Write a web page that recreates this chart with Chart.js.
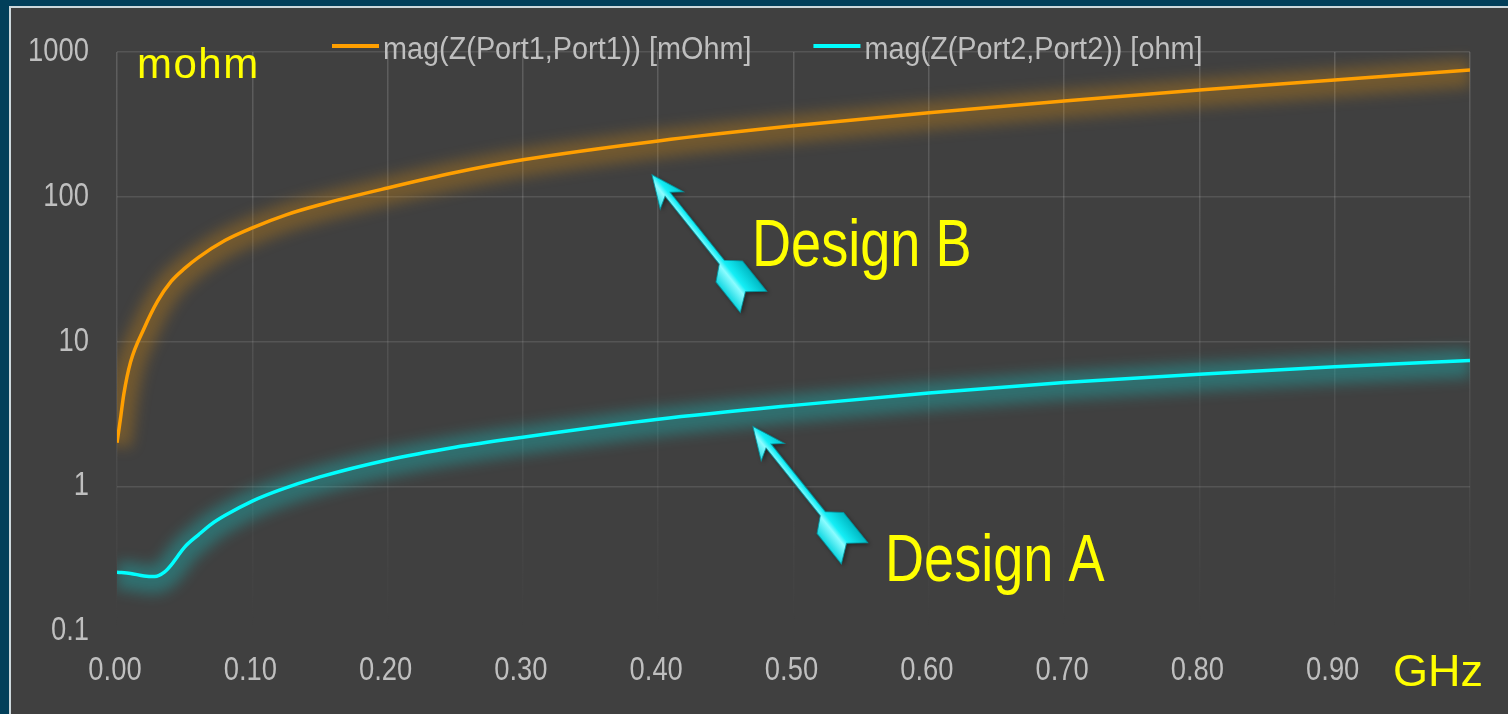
<!DOCTYPE html>
<html>
<head>
<meta charset="utf-8">
<title>Impedance comparison</title>
<script src="https://cdn.jsdelivr.net/npm/chart.js@4.4.1/dist/chart.umd.min.js"></script>
<style>
    html, body { margin: 0; padding: 0; background: #023f5a; overflow: hidden; }
    #panel {
        position: absolute; left: 9px; top: 6px;
        width: 1520px; height: 730px;
        background: #404040; border: 2px solid #cdd8dc;
    }
    #chart { position: absolute; left: 0; top: 0; }
</style>
</head>
<body>
<div id="panel"></div>
<canvas id="chart" width="1508" height="714"></canvas>
<script>
// frequency in GHz
const freqB = [0, 0.0025, 0.005, 0.01, 0.02, 0.03, 0.04, 0.05, 0.06, 0.08, 0.10, 0.125, 0.15,
    0.20, 0.25, 0.30, 0.40, 0.50, 0.60, 0.70, 0.80, 0.90, 1.00];
// mag(Z(Port1,Port1)) in mOhm
const designB = [2.0, 2.9, 4.3, 7.2, 12.3, 19, 26, 32, 38, 50, 61, 75, 88,
    115, 147, 180, 243, 309, 380, 459, 547, 641, 752];

const freqA = [0, 0.01, 0.02, 0.028, 0.035, 0.04, 0.045, 0.05, 0.06, 0.07, 0.08, 0.10, 0.12, 0.15,
    0.20, 0.25, 0.30, 0.40, 0.50, 0.60, 0.70, 0.80, 0.90, 1.00];
// mag(Z(Port2,Port2)) in ohm
const designA = [0.255, 0.25, 0.24, 0.238, 0.255, 0.285, 0.33, 0.38, 0.46, 0.55, 0.63, 0.79, 0.94, 1.16,
    1.52, 1.86, 2.18, 2.90, 3.62, 4.40, 5.20, 5.95, 6.70, 7.40];

const seriesLabels = ["mag(Z(Port1,Port1)) [mOhm]", "mag(Z(Port2,Port2)) [ohm]"];
const seriesColors = ["#ff9f00", "#00ffff"];
const glowColors = ["rgba(255,160,0,0.26)", "rgba(0,255,255,0.25)"];

const xTicks = [0, 0.1, 0.2, 0.3, 0.4, 0.5, 0.6, 0.7, 0.8, 0.9, 1.0];
const xTickLabels = ["0.00", "0.10", "0.20", "0.30", "0.40", "0.50", "0.60", "0.70", "0.80", "0.90", ""];
const yTicks = [0.1, 1, 10, 100, 1000];
const yTickLabels = ["0.1", "1", "10", "100", "1000"];

// callouts: arrow tip + tail end, label anchor (data coords)
const arrows = [
    { tip: [0.3954, 142], tail: [0.470, 19.0] },
    { tip: [0.470, 2.59], tail: [0.5447, 0.348] }
];
const calloutText = ["Design B", "Design A"];
const calloutPos = [[0.4693, 33.4], [0.5676, 0.221]];

// no narrow face installed, so condensed text is squeezed by hand
const SANS = '"Liberation Sans", Arial, sans-serif';

function toPoints(xs, ys) {
    return xs.map((x, i) => ({ x: x, y: ys[i] }));
}

function narrowText(ctx, text, x, y, squeeze, align) {
    ctx.save();
    ctx.translate(x, y);
    ctx.scale(squeeze, 1);
    ctx.textAlign = align || "left";
    ctx.fillText(text, 0, 0);
    ctx.restore();
}

// soft glow: draw the same line element wide + blurred before the real one
const glowPlugin = {
    id: 'glow',
    beforeDatasetDraw(chart, args) {
        const ctx = chart.ctx;
        const area = chart.chartArea;
        const line = args.meta.dataset;
        const o = line.options;
        const bw = o.borderWidth, bc = o.borderColor;

        ctx.save();
        ctx.beginPath();
        ctx.rect(area.left, area.top - 10, area.right - area.left, area.bottom - area.top + 20);
        ctx.clip();
        ctx.filter = "blur(7px)";
        ctx.translate(0, 3);
        o.borderWidth = 28;
        o.borderColor = glowColors[args.index];
        line.draw(ctx, area);
        o.borderWidth = bw;
        o.borderColor = bc;
        ctx.restore();
    }
};

function drawArrow(ctx, tx, ty, ex, ey) {
    const dx = ex - tx, dy = ey - ty;
    const k = Math.hypot(dx, dy) / 162;
    ctx.save();
    ctx.translate(tx, ty);
    ctx.rotate(Math.atan2(dy, dx));
    ctx.scale(k, k);

    const grad = ctx.createLinearGradient(0, -17, 0, 17);
    grad.addColorStop(0, "#00b9c4");
    grad.addColorStop(0.45, "#14eef6");
    grad.addColorStop(0.6, "#8cfcff");
    grad.addColorStop(1, "#10d8e2");
    ctx.fillStyle = grad;
    ctx.shadowColor = "rgba(0,0,0,0.45)";
    ctx.shadowBlur = 4;
    ctx.shadowOffsetX = 2;
    ctx.shadowOffsetY = 2;

    ctx.beginPath();
    // head
    ctx.moveTo(0, 0);
    ctx.lineTo(33, -14);
    ctx.lineTo(25, -3.2);
    // shaft
    ctx.lineTo(112, -3.2);
    // fletching
    ctx.lineTo(124, -17);
    ctx.lineTo(163, -17);
    ctx.lineTo(150, 0);
    ctx.lineTo(163, 17);
    ctx.lineTo(124, 17);
    ctx.lineTo(112, 3.2);
    ctx.lineTo(25, 3.2);
    ctx.lineTo(32, 15);
    ctx.closePath();
    ctx.fill();

    ctx.shadowColor = "transparent";
    ctx.strokeStyle = "rgba(0,150,160,0.8)";
    ctx.lineWidth = 1;
    ctx.stroke();
    ctx.restore();
}

const calloutPlugin = {
    id: 'callouts',
    afterDatasetsDraw(chart) {
        const ctx = chart.ctx;
        const xs = chart.scales.x, ys = chart.scales.y;
        const area = chart.chartArea;
        ctx.save();

        arrows.forEach(a => {
            drawArrow(ctx,
                xs.getPixelForValue(a.tip[0]), ys.getPixelForValue(a.tip[1]),
                xs.getPixelForValue(a.tail[0]), ys.getPixelForValue(a.tail[1]));
        });

        ctx.fillStyle = "#ffff00";
        ctx.textBaseline = "alphabetic";
        ctx.font = "66px " + SANS;
        calloutText.forEach((t, i) => {
            narrowText(ctx, t, xs.getPixelForValue(calloutPos[i][0]), ys.getPixelForValue(calloutPos[i][1]), 0.82);
        });

        // unit labels
        ctx.font = "42px " + SANS;
        ctx.letterSpacing = "1.5px";
        ctx.fillText("mohm", area.left + 20, area.top + 26);
        ctx.letterSpacing = "0px";
        ctx.font = "45px " + SANS;
        ctx.fillText("GHz", area.right - 77, area.bottom + 55);
        ctx.restore();
    }
};

// tick labels, squeezed to look like the condensed face
const tickPlugin = {
    id: 'narrowTicks',
    afterDraw(chart) {
        const ctx = chart.ctx;
        const xs = chart.scales.x, ys = chart.scales.y;
        ctx.save();
        ctx.fillStyle = "#bfbfbf";
        ctx.font = "33px " + SANS;
        ctx.textBaseline = "middle";
        xs.ticks.forEach((t, i) => {
            narrowText(ctx, xTickLabels[i], xs.getPixelForValue(t.value) - 2, xs.top + 40, 0.83, "center");
        });
        ys.ticks.forEach((t, i) => {
            narrowText(ctx, yTickLabels[i], ys.right - 28, ys.getPixelForValue(t.value), 0.83, "right");
        });
        ctx.restore();
    }
};

// legend drawn by hand so the swatch sits right against the text
const legendPlugin = {
    id: 'topLegend',
    afterDraw(chart) {
        const ctx = chart.ctx;
        const squeeze = 0.93;
        ctx.save();
        ctx.font = "31px " + SANS;
        ctx.textBaseline = "middle";
        let x = 332;
        chart.data.datasets.forEach(ds => {
            ctx.strokeStyle = ds.borderColor;
            ctx.lineWidth = 4;
            ctx.beginPath();
            ctx.moveTo(x, 46);
            ctx.lineTo(x + 47, 46);
            ctx.stroke();
            ctx.fillStyle = "#bfbfbf";
            narrowText(ctx, ds.label, x + 51, 50, squeeze);
            x += 51 + ctx.measureText(ds.label).width * squeeze + 62;
        });
        ctx.restore();
    }
};

function xGridColor(context) {
    const chart = context.chart;
    const area = chart.chartArea;
    if (!area) return "rgba(255,255,255,0.1)";
    const g = chart.ctx.createLinearGradient(0, area.top, 0, area.bottom);
    g.addColorStop(0, "rgba(255,255,255,0.16)");
    g.addColorStop(0.6, "rgba(255,255,255,0.08)");
    g.addColorStop(1, "rgba(255,255,255,0)");
    return g;
}

const config = {
    type: 'line',
    data: {
        datasets: [
            {
                label: seriesLabels[0],
                data: toPoints(freqB, designB),
                borderColor: seriesColors[0],
                borderWidth: 3.5,
                pointRadius: 0,
                cubicInterpolationMode: 'monotone'
            },
            {
                label: seriesLabels[1],
                data: toPoints(freqA, designA),
                borderColor: seriesColors[1],
                borderWidth: 3.5,
                pointRadius: 0,
                cubicInterpolationMode: 'monotone'
            }
        ]
    },
    options: {
        responsive: false,
        animation: false,
        devicePixelRatio: 1,
        events: [],
        layout: { padding: { left: 0, right: 38, top: 52, bottom: 0 } },
        plugins: {
            legend: { display: false },
            tooltip: { enabled: false }
        },
        scales: {
            x: {
                type: 'linear',
                min: 0,
                max: 1,
                afterBuildTicks: scale => { scale.ticks = xTicks.map(v => ({ value: v })); },
                afterFit: scale => { scale.height = 83; },
                border: { display: false },
                grid: { color: xGridColor, drawTicks: false, lineWidth: 1.5 },
                ticks: { display: false }
            },
            y: {
                type: 'logarithmic',
                min: 0.1,
                max: 1000,
                afterBuildTicks: scale => { scale.ticks = yTicks.map(v => ({ value: v })); },
                afterFit: scale => { scale.width = 117; },
                border: { display: false },
                grid: {
                    drawTicks: false,
                    lineWidth: 1.5,
                    color: c => (c.tick && c.tick.value === 0.1) ? "rgba(0,0,0,0)" : "rgba(255,255,255,0.11)"
                },
                ticks: { display: false }
            }
        }
    },
    plugins: [glowPlugin, calloutPlugin, tickPlugin, legendPlugin]
};

new Chart(document.getElementById('chart'), config);
</script>
</body>
</html>
